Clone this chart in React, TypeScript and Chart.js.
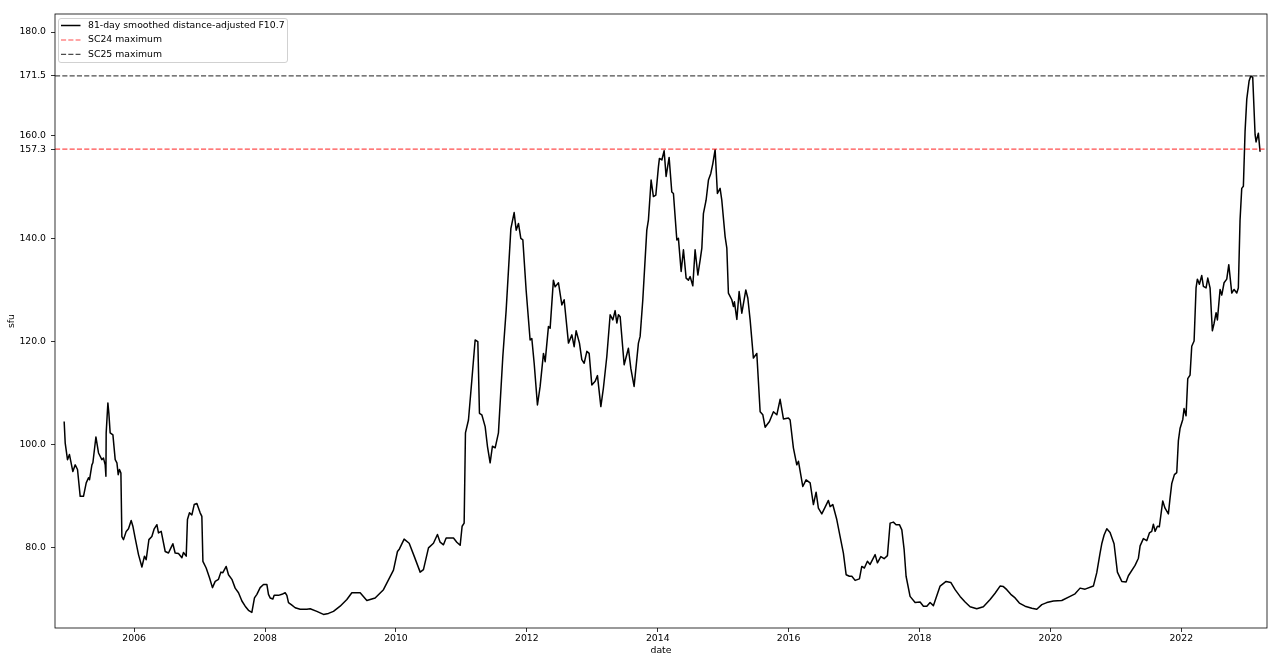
import React, { useEffect, useRef } from "react";
import { Chart, registerables } from "chart.js";

Chart.register(...registerables);

// decimal years of the traced samples
const years: number[] = [
  2004.930, 2004.946, 2004.981, 2005.011, 2005.063, 2005.099, 2005.134, 2005.175, 2005.225, 2005.267,
  2005.302, 2005.317, 2005.354, 2005.369, 2005.415, 2005.455, 2005.506, 2005.531, 2005.557, 2005.568,
  2005.572, 2005.598, 2005.613, 2005.633, 2005.675, 2005.710, 2005.736, 2005.756, 2005.775, 2005.797,
  2005.812, 2005.837, 2005.878, 2005.913, 2005.954, 2005.980, 2006.015, 2006.066, 2006.118, 2006.157,
  2006.183, 2006.225, 2006.270, 2006.306, 2006.347, 2006.371, 2006.413, 2006.474, 2006.524, 2006.561,
  2006.591, 2006.626, 2006.677, 2006.729, 2006.753, 2006.795, 2006.814, 2006.845, 2006.882, 2006.917,
  2006.958, 2007.008, 2007.034, 2007.050, 2007.100, 2007.151, 2007.196, 2007.238, 2007.288, 2007.325,
  2007.355, 2007.406, 2007.441, 2007.493, 2007.543, 2007.594, 2007.646, 2007.696, 2007.746, 2007.798,
  2007.838, 2007.875, 2007.925, 2007.976, 2008.028, 2008.052, 2008.078, 2008.119, 2008.139, 2008.205,
  2008.257, 2008.307, 2008.333, 2008.358, 2008.410, 2008.460, 2008.536, 2008.639, 2008.689, 2008.791,
  2008.892, 2008.969, 2009.045, 2009.147, 2009.250, 2009.326, 2009.453, 2009.555, 2009.682, 2009.809,
  2009.962, 2010.023, 2010.053, 2010.125, 2010.202, 2010.278, 2010.370, 2010.420, 2010.497, 2010.573,
  2010.634, 2010.675, 2010.726, 2010.767, 2010.828, 2010.879, 2010.930, 2010.981, 2011.011, 2011.042,
  2011.062, 2011.108, 2011.160, 2011.210, 2011.251, 2011.276, 2011.312, 2011.363, 2011.398, 2011.439,
  2011.474, 2011.516, 2011.566, 2011.633, 2011.684, 2011.756, 2011.806, 2011.837, 2011.872, 2011.908,
  2011.939, 2011.989, 2012.050, 2012.076, 2012.112, 2012.162, 2012.203, 2012.254, 2012.280, 2012.330,
  2012.356, 2012.406, 2012.432, 2012.483, 2012.535, 2012.570, 2012.636, 2012.688, 2012.723, 2012.753,
  2012.804, 2012.840, 2012.876, 2012.917, 2012.952, 2012.993, 2013.044, 2013.079, 2013.131, 2013.170,
  2013.222, 2013.273, 2013.314, 2013.349, 2013.375, 2013.400, 2013.426, 2013.487, 2013.552, 2013.589,
  2013.639, 2013.705, 2013.731, 2013.772, 2013.833, 2013.858, 2013.899, 2013.934, 2013.971, 2014.011,
  2014.026, 2014.063, 2014.098, 2014.128, 2014.174, 2014.215, 2014.240, 2014.292, 2014.316, 2014.358,
  2014.393, 2014.434, 2014.469, 2014.495, 2014.536, 2014.571, 2014.613, 2014.648, 2014.674, 2014.698,
  2014.739, 2014.775, 2014.811, 2014.842, 2014.877, 2014.912, 2014.953, 2014.979, 2015.030, 2015.056,
  2015.080, 2015.132, 2015.157, 2015.172, 2015.209, 2015.244, 2015.285, 2015.346, 2015.377, 2015.412,
  2015.462, 2015.514, 2015.565, 2015.606, 2015.641, 2015.707, 2015.768, 2015.820, 2015.870, 2015.921,
  2015.997, 2016.023, 2016.073, 2016.125, 2016.150, 2016.217, 2016.267, 2016.329, 2016.379, 2016.420,
  2016.455, 2016.507, 2016.558, 2016.608, 2016.634, 2016.675, 2016.736, 2016.787, 2016.837, 2016.879,
  2016.929, 2016.966, 2017.016, 2017.082, 2017.118, 2017.158, 2017.204, 2017.245, 2017.322, 2017.357,
  2017.409, 2017.459, 2017.510, 2017.551, 2017.601, 2017.642, 2017.693, 2017.730, 2017.765, 2017.795,
  2017.856, 2017.933, 2018.009, 2018.060, 2018.112, 2018.162, 2018.212, 2018.315, 2018.406, 2018.478,
  2018.544, 2018.620, 2018.697, 2018.773, 2018.875, 2018.976, 2019.079, 2019.155, 2019.231, 2019.282,
  2019.334, 2019.395, 2019.461, 2019.526, 2019.613, 2019.716, 2019.792, 2019.869, 2019.945, 2020.046,
  2020.174, 2020.301, 2020.377, 2020.454, 2020.530, 2020.657, 2020.709, 2020.759, 2020.785, 2020.821,
  2020.862, 2020.912, 2020.973, 2021.024, 2021.091, 2021.157, 2021.192, 2021.294, 2021.345, 2021.371,
  2021.421, 2021.473, 2021.513, 2021.549, 2021.574, 2021.600, 2021.635, 2021.665, 2021.717, 2021.752,
  2021.803, 2021.829, 2021.855, 2021.895, 2021.931, 2021.956, 2021.982, 2022.023, 2022.043, 2022.073,
  2022.099, 2022.134, 2022.160, 2022.196, 2022.226, 2022.246, 2022.277, 2022.313, 2022.338, 2022.379,
  2022.405, 2022.440, 2022.475, 2022.501, 2022.532, 2022.552, 2022.593, 2022.619, 2022.654, 2022.695,
  2022.726, 2022.772, 2022.807, 2022.848, 2022.872, 2022.898, 2022.924, 2022.949, 2022.975, 2023.001,
  2023.036, 2023.062, 2023.092, 2023.128, 2023.143, 2023.178, 2023.204,
];

// 81-day smoothed distance-adjusted F10.7 (sfu)
const sfu: number[] = [
  104.5, 100.3, 97.1, 98.1, 94.8, 96.1, 95.2, 90.0, 90.0, 92.6,
  93.6, 93.2, 96.1, 96.5, 101.5, 98.4, 97.1, 97.4, 96.1, 93.9,
  102.3, 108.1, 106.1, 102.3, 101.9, 97.1, 96.5, 94.2, 95.2, 94.5,
  82.2, 81.6, 83.2, 83.7, 85.3, 84.2, 81.9, 78.7, 76.3, 78.4,
  77.7, 81.6, 82.2, 83.7, 84.5, 82.9, 83.2, 79.3, 79.0, 80.0,
  80.8, 79.0, 78.9, 78.1, 79.1, 78.4, 85.5, 86.8, 86.4, 88.4,
  88.6, 86.8, 86.1, 77.4, 76.1, 74.2, 72.3, 73.5, 73.9, 75.3,
  75.2, 76.4, 74.8, 73.9, 72.2, 71.3, 69.7, 68.7, 67.9, 67.5,
  70.3, 71.0, 72.3, 72.9, 72.9, 71.0, 70.3, 70.1, 70.8, 70.8,
  71.0, 71.3, 70.8, 69.4, 68.9, 68.4, 68.1, 68.1, 68.2, 67.7,
  67.1, 67.3, 67.7, 68.7, 70.0, 71.3, 71.3, 69.8, 70.3, 71.9,
  75.7, 79.3, 79.8, 81.7, 80.9, 78.4, 75.3, 75.8, 80.0, 80.9,
  82.6, 81.1, 80.6, 81.9, 81.9, 81.9, 81.1, 80.5, 84.2, 84.8,
  102.3, 104.8, 112.6, 120.3, 120.0, 106.1, 105.8, 103.5, 99.7, 96.5,
  99.7, 99.4, 102.3, 117.1, 126.1, 141.9, 145.0, 141.6, 142.9, 140.0,
  139.7, 130.0, 120.3, 120.6, 115.8, 107.7, 111.3, 117.7, 116.1, 122.9,
  122.6, 131.9, 130.6, 131.4, 127.1, 128.1, 119.7, 121.3, 119.0, 122.1,
  119.7, 116.5, 115.8, 118.1, 117.7, 111.6, 112.3, 113.4, 107.4, 111.0,
  117.1, 125.2, 124.2, 126.0, 123.6, 125.2, 124.8, 115.5, 118.7, 114.8,
  111.3, 119.7, 121.0, 128.1, 141.6, 143.6, 151.3, 148.1, 148.4, 153.9,
  155.5, 155.2, 157.0, 152.0, 155.7, 149.0, 148.7, 139.7, 140.0, 133.6,
  137.8, 132.3, 131.9, 132.6, 130.8, 137.8, 132.9, 135.8, 138.1, 144.8,
  147.4, 151.3, 152.6, 154.5, 157.2, 148.7, 149.7, 147.4, 140.3, 138.1,
  129.4, 128.1, 126.8, 127.7, 124.3, 129.7, 125.5, 130.0, 128.4, 124.2,
  116.8, 117.7, 106.4, 105.8, 103.4, 104.5, 106.4, 105.8, 108.8, 105.0,
  105.2, 104.8, 99.4, 96.1, 96.8, 91.9, 93.2, 92.6, 88.4, 90.8,
  87.7, 86.6, 87.9, 89.2, 88.0, 88.4, 85.5, 82.2, 79.0, 74.8,
  74.5, 74.5, 73.7, 74.0, 76.4, 76.1, 77.4, 76.8, 78.7, 77.1,
  78.3, 77.9, 78.5, 84.8, 85.0, 84.5, 84.5, 83.5, 79.7, 74.5,
  70.6, 69.4, 69.5, 68.7, 68.7, 69.4, 68.8, 72.6, 73.5, 73.3,
  71.9, 70.6, 69.5, 68.6, 68.2, 68.6, 70.0, 71.2, 72.6, 72.5,
  71.9, 71.0, 70.3, 69.3, 68.7, 68.3, 68.1, 69.0, 69.4, 69.7,
  69.8, 70.6, 71.1, 72.2, 72.0, 72.6, 75.2, 79.0, 80.8, 82.5,
  83.7, 83.0, 80.8, 75.3, 73.5, 73.4, 74.6, 76.6, 78.0, 80.4,
  81.8, 81.4, 82.9, 83.2, 84.6, 83.2, 84.2, 84.1, 89.1, 87.7,
  86.6, 89.7, 92.5, 94.2, 94.6, 100.8, 103.2, 104.9, 107.0, 105.6,
  112.8, 113.5, 119.1, 120.1, 130.4, 132.1, 131.1, 132.8, 130.7, 130.4,
  132.3, 130.4, 122.1, 123.5, 125.6, 124.2, 130.1, 129.0, 131.4, 132.1,
  134.9, 129.4, 130.1, 129.4, 130.4, 143.5, 149.7, 150.1, 160.8, 167.0,
  170.5, 171.5, 171.2, 160.1, 158.7, 160.4, 156.8,
];

const sc24Max = 157.3;
const sc25Max = 171.5;

const seriesLabels = [
  "81-day smoothed distance-adjusted F10.7",
  "SC24 maximum",
  "SC25 maximum",
];

const xTicks = [2006, 2008, 2010, 2012, 2014, 2016, 2018, 2020, 2022];
const yTicks = [80, 100, 120, 140, 157.3, 160, 171.5, 180];

const xMin = 2004.79;
const xMax = 2023.31;
const yMin = 64.47;
const yMax = 183.5;

const FONT_FAMILY = "'DejaVu Sans', 'Liberation Sans', sans-serif";
const FONT_SIZE = 9.3;
const RED = "rgba(255,0,0,0.7)";
const DARK = "rgba(0,0,0,0.7)";
const DASH = [5.1, 2.2];

export default function App() {
  const ref = useRef<HTMLCanvasElement | null>(null);

  useEffect(() => {
    document.body.style.margin = "0";
    const canvas = ref.current;
    if (!canvas) return;

    const font = { family: FONT_FAMILY, size: FONT_SIZE };

    const framePlugin = {
      id: "frame",
      afterDatasetsDraw(chart: any) {
        const { ctx, chartArea } = chart;
        ctx.save();
        ctx.strokeStyle = "#000";
        ctx.lineWidth = 0.8;
        ctx.strokeRect(
          chartArea.left,
          chartArea.top,
          chartArea.right - chartArea.left,
          chartArea.bottom - chartArea.top
        );
        ctx.restore();
      },
    };

    const legendPlugin = {
      id: "mplLegend",
      afterDraw(chart: any) {
        const ctx = chart.ctx;
        const { left, top } = chart.chartArea;
        ctx.save();
        const bx = left + 3.5;
        const by = top + 4.5;
        const bw = 229;
        const bh = 44;
        ctx.beginPath();
        if ((ctx as any).roundRect) (ctx as any).roundRect(bx, by, bw, bh, 2.5);
        else ctx.rect(bx, by, bw, bh);
        ctx.fillStyle = "rgba(255,255,255,0.8)";
        ctx.fill();
        ctx.strokeStyle = "rgba(204,204,204,0.9)";
        ctx.lineWidth = 1;
        ctx.stroke();

        const entries = [
          { color: "#000", dash: [] as number[], width: 1.5 },
          { color: RED, dash: DASH, width: 1.2 },
          { color: DARK, dash: DASH, width: 1.2 },
        ];
        const rowY = [top + 11.5, top + 26, top + 40.3];
        ctx.font = `${FONT_SIZE}px ${FONT_FAMILY}`;
        ctx.textBaseline = "middle";
        entries.forEach((e, i) => {
          ctx.beginPath();
          ctx.setLineDash(e.dash);
          ctx.strokeStyle = e.color;
          ctx.lineWidth = e.width;
          ctx.moveTo(left + 6, rowY[i]);
          ctx.lineTo(left + 25.5, rowY[i]);
          ctx.stroke();
          ctx.setLineDash([]);
          ctx.fillStyle = "#000";
          ctx.fillText(seriesLabels[i], left + 33, rowY[i]);
        });
        ctx.restore();
      },
    };

    const chart = new Chart(canvas, {
      type: "line",
      data: {
        datasets: [
          {
            label: seriesLabels[0],
            data: years.map((x, i) => ({ x, y: sfu[i] })),
            borderColor: "#000",
            borderWidth: 1.5,
            pointRadius: 0,
            tension: 0,
            fill: false,
            borderJoinStyle: "round",
            order: 2,
          },
          {
            label: seriesLabels[1],
            data: [
              { x: xMin, y: sc24Max },
              { x: xMax, y: sc24Max },
            ],
            borderColor: RED,
            borderWidth: 1.2,
            borderDash: DASH,
            pointRadius: 0,
            fill: false,
            order: 1,
          },
          {
            label: seriesLabels[2],
            data: [
              { x: xMin, y: sc25Max },
              { x: xMax, y: sc25Max },
            ],
            borderColor: DARK,
            borderWidth: 1.2,
            borderDash: DASH,
            pointRadius: 0,
            fill: false,
            order: 1,
          },
        ],
      },
      options: {
        responsive: false,
        animation: false,
        devicePixelRatio: 1,
        layout: { padding: { left: 0, right: 13, top: 14, bottom: 0 } },
        plugins: {
          legend: { display: false },
          tooltip: { enabled: false },
          title: { display: false },
        },
        events: [],
        scales: {
          x: {
            type: "linear",
            min: xMin,
            max: xMax,
            afterBuildTicks: (s: any) => {
              s.ticks = xTicks.map((v) => ({ value: v }));
            },
            afterFit: (s: any) => {
              s.height = 39;
            },
            ticks: {
              callback: (v: any) => String(v),
              color: "#000",
              font,
              maxRotation: 0,
              autoSkip: false,
              padding: 1.5,
            },
            grid: {
              drawOnChartArea: false,
              drawTicks: true,
              tickLength: 4,
              tickColor: "#000",
              tickWidth: 0.8,
            },
            border: { display: false },
            title: {
              display: true,
              text: "date",
              color: "#000",
              font,
              padding: { top: 0, bottom: 10.4 },
            },
          },
          y: {
            type: "linear",
            min: yMin,
            max: yMax,
            afterBuildTicks: (s: any) => {
              s.ticks = yTicks.map((v) => ({ value: v }));
            },
            afterFit: (s: any) => {
              s.width = 55;
            },
            ticks: {
              callback: (v: any) => Number(v).toFixed(1),
              color: "#000",
              font,
              autoSkip: false,
              padding: 5,
            },
            grid: {
              drawOnChartArea: false,
              drawTicks: true,
              tickLength: 4,
              tickColor: "#000",
              tickWidth: 0.8,
            },
            border: { display: false },
            title: {
              display: true,
              text: "sfu",
              color: "#000",
              font,
              padding: { top: 6.4, bottom: 0 },
            },
          },
        },
      } as any,
      plugins: [framePlugin, legendPlugin],
    });

    return () => {
      chart.destroy();
    };
  }, []);

  return (
    <div style={{ position: "absolute", left: 0, top: 0, width: 1280, height: 667, background: "#fff" }}>
      <canvas ref={ref} width={1280} height={667} style={{ display: "block" }} />
    </div>
  );
}
